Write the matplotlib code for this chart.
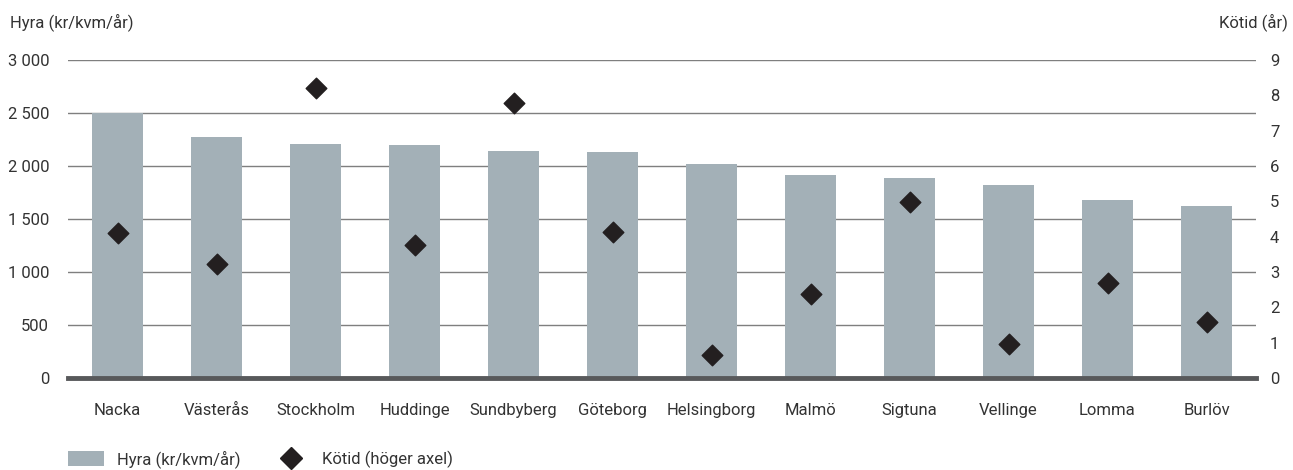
import matplotlib
matplotlib.use("Agg")
import matplotlib.pyplot as plt
from matplotlib.lines import Line2D
from matplotlib.patches import Patch

plt.rcParams["font.family"] = ["Roboto", "DejaVu Sans"]

categories = ["Nacka", "Västerås", "Stockholm", "Huddinge", "Sundbyberg", "Göteborg",
              "Helsingborg", "Malmö", "Sigtuna", "Vellinge", "Lomma", "Burlöv"]
hyra = [2500, 2274, 2208, 2198, 2142, 2132, 2019, 1915, 1887, 1821, 1679, 1623]
kotid = [4.10, 3.22, 8.21, 3.76, 7.78, 4.13, 0.65, 2.38, 4.98, 0.96, 2.69, 1.58]
left_ticks = [0, 500, 1000, 1500, 2000, 2500, 3000]
left_labels = ["0", "500", "1 000", "1 500", "2 000", "2 500", "3 000"]
right_ticks = list(range(0, 10))

bar_color = "#a3b0b7"
mk_color = "#231f20"
txt = "#333333"

fig = plt.figure(figsize=(12.93, 4.70), dpi=100)
ax = fig.add_axes([68/1293, 1 - 378/470, (1256-68)/1293, (378-60)/470])
x = list(range(len(categories)))
ax.bar(x, hyra, width=0.515, color=bar_color, zorder=2)
ax.set_xlim(-0.5, len(categories) - 0.5)
ax.set_ylim(0, 3000)
ax.set_yticks(left_ticks)
ax.set_yticklabels(left_labels)
ax.yaxis.grid(True, color="#7f7f7f", linewidth=1.0, zorder=1)
ax.set_axisbelow(True)
for s in ["top", "right", "left"]:
    ax.spines[s].set_visible(False)
ax.spines["bottom"].set_color("#58595b")
ax.spines["bottom"].set_linewidth(3.5)
ax.spines["bottom"].set_zorder(5)
ax.tick_params(axis="y", length=0, pad=13.5, labelsize=12, labelcolor=txt)
ax.tick_params(axis="x", length=0, pad=18, labelsize=12, labelcolor=txt)
ax.set_xticks(x)
ax.set_xticklabels(categories)

ax2 = ax.twinx()
ax2.scatter(x, kotid, marker="D", s=110, color=mk_color, zorder=4)
ax2.set_ylim(0, 9)
ax2.set_yticks(right_ticks)
ax2.tick_params(axis="y", length=0, pad=10, labelsize=12, labelcolor=txt)
for s in ["top", "right", "left", "bottom"]:
    ax2.spines[s].set_visible(False)

fig.text(10/1293, 1 - 22/470, "Hyra (kr/kvm/år)", fontsize=12, color=txt, va="center", ha="left")
fig.text(1288/1293, 1 - 22/470, "Kötid (år)", fontsize=12, color=txt, va="center", ha="right")

handles = [Patch(facecolor=bar_color, edgecolor="none"),
           Line2D([], [], marker="D", color=mk_color, linestyle="none", markersize=11)]
fig.legend(handles, ["Hyra (kr/kvm/år)", "Kötid (höger axel)"], loc="center left",
           bbox_to_anchor=(68/1293, 1 - 459/470), ncol=2, frameon=False, fontsize=12,
           handlelength=2.15, handleheight=1.0, columnspacing=1.95, handletextpad=0.8,
           borderpad=0, borderaxespad=0, labelcolor=txt)

fig.savefig("out.png", dpi=100)
